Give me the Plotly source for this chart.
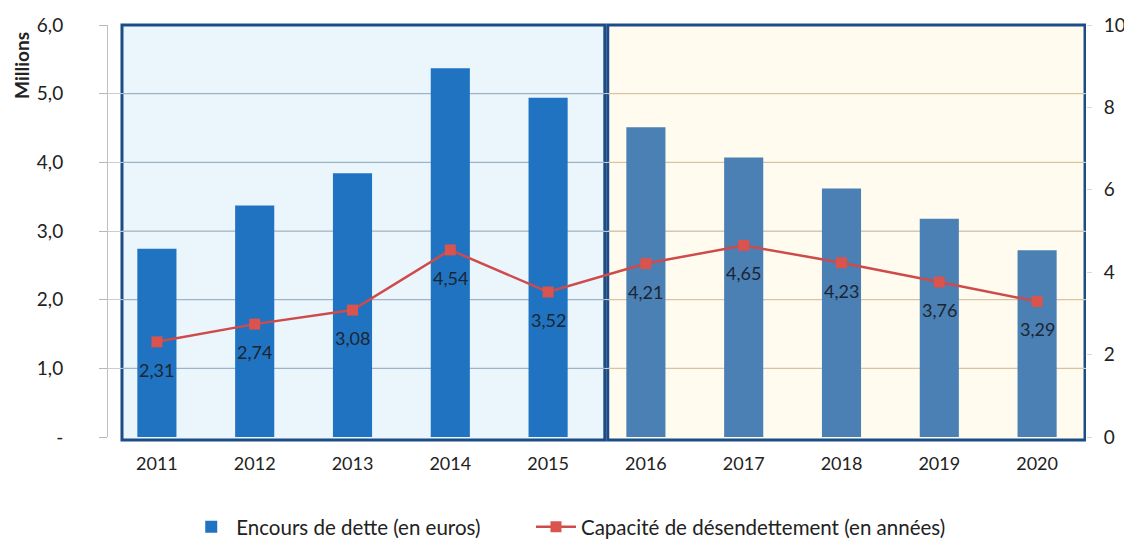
import plotly.graph_objects as go

# ---- data ----
years = ["2011", "2012", "2013", "2014", "2015", "2016", "2017", "2018", "2019", "2020"]
encours = [2.74, 3.37, 3.84, 5.37, 4.94, 4.51, 4.07, 3.62, 3.18, 2.72]  # millions d'euros
capacite = [2.31, 2.74, 3.08, 4.54, 3.52, 4.21, 4.65, 4.23, 3.76, 3.29]  # années
left_tickvals = [0, 1, 2, 3, 4, 5, 6]
left_ticktext = ["-", "1,0", "2,0", "3,0", "4,0", "5,0", "6,0"]
right_tickvals = [0, 2, 4, 6, 8, 10]
bar_name = "Encours de dette (en euros)"
line_name = "Capacité de désendettement (en années)"

FONT = "Lato"
past_color = "#1f73c0"
proj_color = "#4a80b3"
bar_colors = [past_color if int(y) <= 2015 else proj_color for y in years]

fig = go.Figure()
fig.add_trace(go.Bar(
    x=years, y=encours, name=bar_name, marker=dict(color=bar_colors, line=dict(width=0)),
    width=0.4, yaxis="y", hoverinfo="skip", legend="legend",
))
fig.add_trace(go.Scatter(
    x=years, y=capacite, name=line_name, yaxis="y2", mode="lines+markers",
    line=dict(color="#cf4b4b", width=2.5),
    marker=dict(symbol="square", size=11, color="#d9534f"),
    legend="legend2",
))

# data labels under the markers (category index used as x position)
for i, v in enumerate(capacite):
    fig.add_annotation(
        x=i, y=v, xref="x", yref="y2", text=f"{v:.2f}".replace(".", ","),
        showarrow=False, yshift=-28, font=dict(family=FONT, size=18, color="#1c2533"),
    )

# background panels
left_x0, left_x1 = -0.357, 4.58
right_x0, right_x1 = 4.61, 9.49
fig.add_shape(type="rect", xref="x", yref="paper", x0=left_x0, x1=left_x1, y0=-0.007, y1=1.0,
              fillcolor="#eaf6fc", line=dict(width=0), layer="below")
fig.add_shape(type="rect", xref="x", yref="paper", x0=right_x0, x1=right_x1, y0=-0.007, y1=1.0,
              fillcolor="#fffcef", line=dict(width=0), layer="below")
for tv in left_tickvals[1:-1]:
    fig.add_shape(type="line", xref="x", yref="y", x0=right_x0, x1=right_x1, y0=tv, y1=tv,
                  line=dict(color="#d8c3a5", width=1.2), layer="between")
for tv in left_tickvals[1:-1]:
    fig.add_shape(type="line", xref="x", yref="y", x0=left_x0, x1=left_x1, y0=tv, y1=tv,
                  line=dict(color="#9fb3c6", width=1.2), layer="between")
fig.add_shape(type="rect", xref="x", yref="paper", x0=left_x0, x1=left_x1, y0=-0.007, y1=1.0,
              line=dict(color="#1b4c86", width=3), layer="between")
fig.add_shape(type="rect", xref="x", yref="paper", x0=right_x0, x1=right_x1, y0=-0.007, y1=1.0,
              line=dict(color="#1b4c86", width=3), layer="between")

fig.add_annotation(
    text="<b>Millions</b>", xref="paper", yref="paper", x=-0.088, y=0.903,
    xanchor="center", yanchor="middle",
    textangle=-90, showarrow=False, font=dict(family=FONT, size=19, color="#222"),
)

legend_font = dict(family=FONT, size=20.5, color="#222")

# page body has an 8px margin, so the figure is sized/offset to compensate
fig.update_layout(
    width=1124, height=532,
    margin=dict(l=100, r=46, t=17, b=103, autoexpand=False),
    paper_bgcolor="white", plot_bgcolor="white",
    font=dict(family=FONT, size=18, color="#222"),
    showlegend=True,
    legend=dict(orientation="h", x=0.080, xanchor="left", y=-0.218, yanchor="middle",
                font=legend_font, itemwidth=40, bgcolor="rgba(0,0,0,0)"),
    legend2=dict(orientation="h", x=0.4325, xanchor="left", y=-0.218, yanchor="middle",
                 font=legend_font, itemwidth=40, bgcolor="rgba(0,0,0,0)"),
    bargap=0.6,
    xaxis=dict(type="category", showgrid=False, showline=False, ticks="", zeroline=False,
               tickfont=dict(family=FONT, size=18, color="#222"), ticklabelstandoff=14,
               range=[-0.5, 9.5]),
    yaxis=dict(range=[0, 6], tickvals=left_tickvals, ticktext=left_ticktext,
               showgrid=True, gridcolor="#c8ccd2", gridwidth=1, zeroline=False,
               showline=True, linecolor="#c0c0c0", linewidth=1,
               ticks="outside", ticklen=8, tickcolor="#b8b8b8",
               tickfont=dict(family=FONT, size=19, color="#222"), ticklabelstandoff=32),
    yaxis2=dict(range=[0, 10], tickvals=right_tickvals, overlaying="y", side="right",
                showgrid=False, zeroline=False, showline=False,
                ticks="outside", ticklen=5, tickcolor="#d8d8d8",
                tickfont=dict(family=FONT, size=19, color="#222"), ticklabelstandoff=8),
)

fig.write_html("out.html")
